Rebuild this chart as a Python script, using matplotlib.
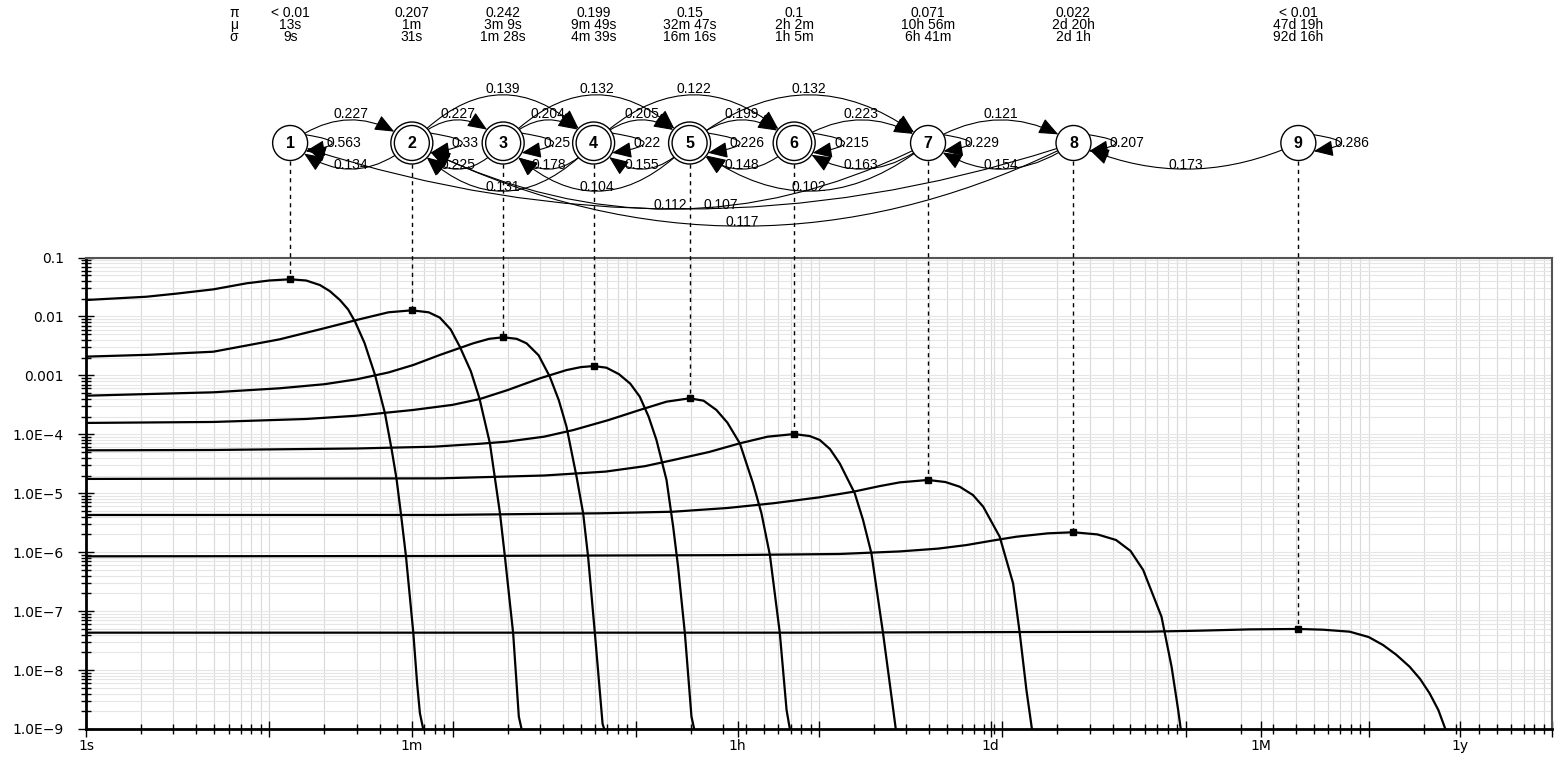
import numpy as np
import matplotlib.pyplot as plt
from matplotlib.patches import Circle, FancyArrowPatch

# header rows above the state diagram
pi_labels = ['< 0.01', '0.207', '0.242', '0.199', '0.15', '0.1', '0.071', '0.022', '< 0.01']
mu_labels = ['13s', '1m', '3m 9s', '9m 49s', '32m 47s', '2h 2m', '10h 56m', '2d 20h', '47d 19h']
sigma_labels = ['9s', '31s', '1m 28s', '4m 39s', '16m 16s', '1h 5m', '6h 41m', '2d 1h', '92d 16h']

# mean time of each state (s) and the height of its curve there
mu_sec = [13, 60, 189, 589, 1967, 7320, 39360, 244800, 4129200]
peak_p = [0.0427, 0.0127, 0.00443, 0.00144, 4.08e-4, 1.01e-4, 1.68e-5, 2.18e-6, 4.98e-8]
double_ring = [False, True, True, True, True, True, False, False, False]

# curves (time in s, probability)
t1 = [1, 2.14, 3.16, 4.95, 7.53, 10, 13, 15.9, 18.9, 21.4, 24.3, 26.9, 29.4, 33.1, 37.8, 42.8,
      46.6, 49.5, 52.4, 55.7, 61.1, 64.1, 66.4, 69.2]
p1 = [0.0190, 0.0216, 0.0245, 0.0288, 0.0365, 0.0407, 0.0427, 0.0407, 0.0341, 0.0269, 0.0190,
      0.0132, 0.00815, 3.55e-3, 1.01e-3, 2.27e-4, 5.42e-5, 1.75e-5, 4.28e-6, 8.63e-7, 4.31e-8,
      5.97e-9, 1.85e-9, 1e-9]
t2 = [1, 2.24, 4.95, 11.4, 20.0, 30.0, 44.7, 60, 74.1, 85.3, 97.7, 109.6, 125.9, 140.3, 160,
      181.6, 193.2, 214.3, 230.1, 238.2]
p2 = [2.08e-3, 2.24e-3, 2.52e-3, 4.09e-3, 6.31e-3, 8.71e-3, 0.01175, 0.0127, 0.01175, 9.55e-3,
      6.03e-3, 3.07e-3, 1.175e-3, 4.07e-4, 7.03e-5, 4.56e-6, 8.38e-7, 4.20e-8, 1.62e-9, 1e-9]
t3 = [1, 4.95, 11.4, 20.0, 30.0, 44.7, 61.1, 85.3, 129.7, 158.5, 189, 223.9, 253.5, 295.1, 339.6,
      380.2, 418.8, 475.3, 516.4, 549.5, 598.4, 659.2, 673.0]
p3 = [4.52e-4, 5.16e-4, 6.04e-4, 7.08e-4, 8.57e-4, 1.12e-3, 1.50e-3, 2.22e-3, 3.50e-3, 4.17e-3,
      4.43e-3, 4.17e-3, 3.50e-3, 2.19e-3, 9.51e-4, 3.80e-4, 1.35e-4, 1.91e-5, 4.56e-6, 8.38e-7,
      4.20e-8, 1.22e-9, 1e-9]
t4 = [1, 4.95, 15.9, 30.0, 61.1, 100, 141.3, 199.5, 299.9, 418.8, 501.2, 589, 691.8, 809.1, 933.3,
      1052, 1175, 1297, 1472, 1600, 1702, 1854, 2014, 2084]
p4 = [1.56e-4, 1.62e-4, 1.82e-4, 2.07e-4, 2.59e-4, 3.16e-4, 3.98e-4, 5.62e-4, 8.91e-4, 1.23e-3,
      1.38e-3, 1.44e-3, 1.35e-3, 1.05e-3, 7.24e-4, 4.35e-4, 2.00e-4, 8.02e-5, 1.68e-5, 2.71e-6,
      5.69e-7, 4.20e-8, 1.62e-9, 1e-9]
t5 = [1, 4.95, 30.0, 79.4, 141.3, 197.7, 316.2, 456.0, 707.9, 1052, 1472, 1967, 2344, 2754, 3162,
      3698, 4365, 4853, 5395, 6109, 6653, 6934]
p5 = [5.35e-5, 5.42e-5, 5.75e-5, 6.17e-5, 6.92e-5, 7.50e-5, 9.12e-5, 1.18e-4, 1.74e-4, 2.59e-4,
      3.58e-4, 4.08e-4, 3.72e-4, 2.59e-4, 1.58e-4, 7.03e-5, 1.47e-5, 4.56e-6, 8.95e-7, 4.31e-8,
      2.10e-9, 1e-9]
t6 = [1, 85.3, 316.2, 683.9, 1122, 1600, 2512, 3698, 5248, 7320, 8913, 10090, 11480, 12970, 15670,
      17380, 19320, 22340, 24320, 26240]
p6 = [1.75e-5, 1.79e-5, 2.00e-5, 2.33e-5, 2.88e-5, 3.66e-5, 5.01e-5, 7.03e-5, 9.12e-5, 1.01e-4,
      9.33e-5, 8.02e-5, 5.62e-5, 3.22e-5, 9.98e-6, 3.55e-6, 9.57e-7, 4.31e-8, 5.97e-9, 1e-9]
t7 = [1, 85.3, 631, 1600, 3162, 5623, 10000, 15350, 21380, 27610, 39360, 48980, 58610, 69180,
      78700, 96830, 114600, 124500, 135500, 145200]
p7 = [4.28e-6, 4.28e-6, 4.57e-6, 4.86e-6, 5.62e-6, 6.76e-6, 8.51e-6, 1.06e-5, 1.32e-5, 1.53e-5,
      1.68e-5, 1.55e-5, 1.29e-5, 9.33e-6, 5.92e-6, 1.83e-6, 2.96e-7, 4.31e-8, 4.59e-9, 1e-9]
t8 = [1, 85.3, 3162, 12970, 27610, 44670, 63680, 89130, 119400, 177800, 244800, 331100, 417800,
      501200, 587500, 739600, 839500, 912000, 941900]
p8 = [8.51e-7, 8.61e-7, 8.91e-7, 9.33e-7, 1.03e-6, 1.15e-6, 1.32e-6, 1.58e-6, 1.83e-6, 2.09e-6,
      2.18e-6, 2.00e-6, 1.61e-6, 1.05e-6, 4.99e-7, 8.05e-8, 1.14e-8, 2.10e-9, 1e-9]
t9 = [1, 7852, 629500, 1194000, 2239000, 4129200, 5623000, 7870000, 10000000, 11970000, 14130000,
      16710000, 19050000, 21480000, 23990000, 26180000]
p9 = [4.31e-8, 4.31e-8, 4.48e-8, 4.66e-8, 4.90e-8, 4.98e-8, 4.84e-8, 4.48e-8, 3.63e-8, 2.66e-8,
      1.82e-8, 1.14e-8, 7.08e-9, 4.03e-9, 2.09e-9, 1e-9]

curves_t = [t1, t2, t3, t4, t5, t6, t7, t8, t9]
curves_p = [p1, p2, p3, p4, p5, p6, p7, p8, p9]

# transitions (from, to, probability) and self transitions
edges = [(1, 2, 0.227), (2, 1, 0.134), (2, 3, 0.227), (3, 2, 0.225), (2, 4, 0.139),
         (4, 2, 0.131), (3, 4, 0.204), (4, 3, 0.178), (3, 5, 0.132), (5, 3, 0.104),
         (4, 5, 0.205), (5, 4, 0.155), (4, 6, 0.122), (5, 6, 0.199), (6, 5, 0.148),
         (5, 7, 0.132), (7, 5, 0.102), (6, 7, 0.223), (7, 6, 0.163), (7, 8, 0.121),
         (8, 7, 0.154), (9, 8, 0.173), (7, 2, 0.112), (8, 1, 0.107), (8, 2, 0.117)]
self_loops = ['0.563', '0.33', '0.25', '0.22', '0.226', '0.215', '0.229', '0.207', '0.286']

unit_secs = [1, 60, 3600, 86400, 2592000, 31536000]
unit_names = ['1s', '1m', '1h', '1d', '1M', '1y']
y_decades = [1e-9, 1e-8, 1e-7, 1e-6, 1e-5, 1e-4, 1e-3, 1e-2, 1e-1]
y_names = ['1.0E\u22129', '1.0E\u22128', '1.0E\u22127', '1.0E\u22126', '1.0E\u22125',
           '1.0E\u22124', '0.001', '0.01', '0.1']

W, H = 1561, 768
fig = plt.figure(figsize=(W / 100, H / 100), dpi=100)
ax = fig.add_axes([86 / W, 1 - 729 / H, (1552 - 86) / W, (729 - 257.5) / H])
ax.set_xscale('log')
ax.set_yscale('log')
ax.set_xlim(1, 1e8)
ax.set_ylim(1e-9, 0.1)

for t, p in zip(curves_t, curves_p):
    ax.plot(t, p, color='black', lw=1.6, solid_joinstyle='round', zorder=3)
ax.plot(mu_sec, peak_p, 's', color='black', ms=4.5, zorder=4)

# ticks
decades = [10.0 ** e for e in range(1, 9)]
major = sorted(unit_secs + decades)
ax.set_xticks(major, [unit_names[unit_secs.index(v)] if v in unit_secs else '' for v in major])
ax.set_xticks([k * 10.0 ** e for e in range(8) for k in range(2, 10)], minor=True)
ax.set_yticks(y_decades, y_names)
ax.set_yticks([k * 10.0 ** e for e in range(-9, -1) for k in range(2, 10)], minor=True)
ax.yaxis.set_minor_formatter(plt.NullFormatter())
ax.xaxis.set_minor_formatter(plt.NullFormatter())
ax.tick_params(which='major', direction='inout', length=12, width=1, labelsize=10)
ax.tick_params(axis='y', which='major', pad=10)
ax.tick_params(axis='x', which='major', pad=1)
ax.tick_params(which='minor', direction='inout', length=7, width=1)
ax.xaxis.grid(True, which='both', color='#dadada', lw=0.8)
ax.yaxis.grid(True, which='both', color='#e6e6e6', lw=0.8)
ax.set_axisbelow(True)
for s in ['left', 'bottom']:
    ax.spines[s].set_linewidth(2)
for s in ['top', 'right']:
    ax.spines[s].set_linewidth(1.5)
    ax.spines[s].set_color('#555555')

# state diagram drawn in pixel coordinates on top
ov = fig.add_axes([0, 0, 1, 1], zorder=5)
ov.set_xlim(0, W)
ov.set_ylim(H, 0)
ov.axis('off')

node_y = 143
r_in, r_out = 17.5, 21
font = 'Liberation Sans'
node_x = [ax.transData.transform((m, 1e-3))[0] for m in mu_sec]
head = '-|>,head_length=0.6,head_width=0.25'


def depth(a, b):
    span = abs(a - b)
    if span == 1:
        return 23 if a < b else 26
    if span == 2:
        return 48
    return 66 if span != 6 else 83


for a, b, prob in edges:
    xa, xb = node_x[a - 1], node_x[b - 1]
    d = depth(a, b)
    rad = -2 * d / abs(xb - xa)
    ra = r_out if double_ring[a - 1] else r_in
    rb = r_out if double_ring[b - 1] else r_in
    arr = FancyArrowPatch((xa, node_y), (xb, node_y), connectionstyle=f'arc3,rad={rad}',
                          arrowstyle=head, mutation_scale=20,
                          shrinkA=ra * 0.72, shrinkB=rb * 0.72, color='black', lw=0.8, zorder=2)
    ov.add_patch(arr)
    # label on the curve (the longest arc gets its label nearer the start)
    s = 0.45 if abs(a - b) == 7 else 0.5
    lx = xa + s * (xb - xa)
    ly = node_y - d - 6 if a < b else node_y + d - 4
    ov.text(lx, ly, f'{prob:g}', ha='center', va='center', fontsize=10, family=font, zorder=1)

for i, lab in enumerate(self_loops):
    x = node_x[i]
    r = r_out if double_ring[i] else r_in
    ang = np.radians(28)
    pa = (x + r * np.cos(ang), node_y - r * np.sin(ang))
    pb = (x + r * np.cos(ang), node_y + r * np.sin(ang))
    arr = FancyArrowPatch(pa, pb, connectionstyle='arc3,rad=-3.2',
                          arrowstyle=head, mutation_scale=20,
                          shrinkA=0, shrinkB=0, color='black', lw=0.8, zorder=2)
    ov.add_patch(arr)
    ov.text(x + r + 19, node_y, lab, ha='left', va='center', fontsize=10, family=font, zorder=1)

for i, x in enumerate(node_x):
    if double_ring[i]:
        ov.add_patch(Circle((x, node_y), r_out, fc='white', ec='black', lw=1, zorder=3))
        ov.add_patch(Circle((x, node_y), r_in, fc='white', ec='black', lw=1, zorder=3))
    else:
        ov.add_patch(Circle((x, node_y), r_in, fc='white', ec='black', lw=1, zorder=3))
    ov.text(x, node_y + 1, str(i + 1), ha='center', va='center', fontsize=11.5,
            fontweight='bold', family=font, zorder=4)
    # dashed drop line from the node to the peak marker
    mx, my = ax.transData.transform((mu_sec[i], peak_p[i]))
    rr = r_out if double_ring[i] else r_in
    ov.plot([x, x], [node_y + rr, H - my], color='black', lw=1, ls=(0, (3, 3)), zorder=1)

# header rows
for row, (sym, vals) in enumerate([('\u03c0', pi_labels), ('\u03bc', mu_labels),
                                     ('\u03c3', sigma_labels)]):
    y = 13 + 12 * row
    ov.text(node_x[0] - 56, y, sym, ha='center', va='center', fontsize=10, family=font)
    for x, v in zip(node_x, vals):
        ov.text(x, y, v, ha='center', va='center', fontsize=10, family=font)

fig.savefig('out.png', dpi=100)
